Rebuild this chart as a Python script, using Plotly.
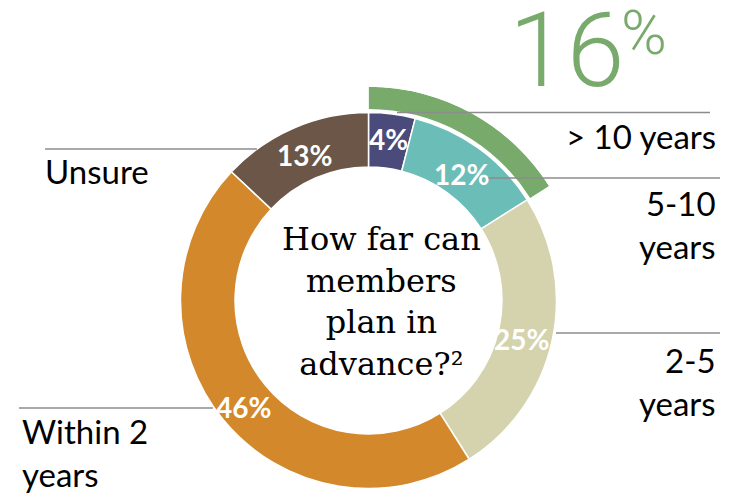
import math
import plotly.graph_objects as go

W, H = 730, 493

# Survey answers, clockwise from 12 o'clock
categories = ["> 10 years", "5-10 years", "2-5 years", "Within 2 years", "Unsure"]
shares = [4, 12, 25, 46, 13]
slice_colors = ["#4b4b7b", "#6bbdb8", "#d4d3ae", "#d3892b", "#6b5647"]
label_text = ["> 10 years", "5-10<br>years", "2-5<br>years", "Within 2<br>years", "Unsure"]
highlight_count = 2  # first two answers form the highlighted long-horizon group
question = "How far can<br>members<br>plan in<br>advance?²"

GREEN = "#78aa6b"
GREY = "#8c8c8c"
LABEL_FONT = "Lato"


def px(x):
    return x / W


def py(y):
    return 1 - y / H


# donut geometry (pixels)
cx, cy = 368.5, 300.5
r_out = 188.0
hole = 0.71
arc_in, arc_out = 191.5, 213.8

highlight = sum(shares[:highlight_count])
span = 360.0 * highlight / sum(shares)

fig = go.Figure()

fig.add_trace(go.Pie(
    labels=categories,
    values=shares,
    sort=False,
    direction="clockwise",
    rotation=0,
    hole=hole,
    marker=dict(colors=slice_colors, line=dict(color="white", width=1.5)),
    textinfo="none",
    hoverinfo="skip",
    showlegend=False,
    domain=dict(x=[px(cx - r_out), px(cx + r_out)], y=[py(cy + r_out), py(cy - r_out)]),
))

# outer highlight arc drawn on a polar sector subplot
fig.add_trace(go.Barpolar(
    r=[arc_out - arc_in],
    base=[arc_in],
    theta=[span / 2],
    width=[span],
    marker=dict(color=GREEN, line=dict(width=0)),
    hoverinfo="skip",
    showlegend=False,
))

sector_lo = 90 - span - 1
fig.update_layout(
    polar=dict(
        domain=dict(
            x=[px(cx), px(cx + arc_out * math.cos(math.radians(sector_lo)))],
            y=[py(cy), py(cy - arc_out)],
        ),
        sector=[sector_lo, 90],
        bgcolor="rgba(0,0,0,0)",
        radialaxis=dict(visible=False, range=[0, arc_out]),
        angularaxis=dict(visible=False, rotation=90, direction="clockwise"),
    )
)

# leader lines (pixel coordinates)
leaders = [
    (397, 710, 112.5),
    (487, 720, 178),
    (556, 720, 333),
    (19, 213, 408),
    (45, 257, 149),
]
for x0, x1, y in leaders:
    fig.add_shape(type="line", xref="paper", yref="paper",
                  x0=px(x0), x1=px(x1), y0=py(y), y1=py(y),
                  line=dict(color=GREY, width=1.5))

# percentage labels on the slices (pixel centres)
pct_pos = [(388, 139), (461, 174), (521, 339), (243, 407), (304, 155)]
for v, (x, y) in zip(shares, pct_pos):
    fig.add_annotation(text=f"{v}%", x=px(x), y=py(y), xref="paper", yref="paper",
                       xanchor="center", yanchor="middle", showarrow=False,
                       font=dict(family=LABEL_FONT, size=28, color="white", weight="bold"))

# category labels: (x, y centre, anchor)
label_pos = [
    (718, 136, "right"),
    (718, 224, "right"),
    (718, 381, "right"),
    (20, 452, "left"),
    (43, 171, "left"),
]
for txt, (x, y, anchor) in zip(label_text, label_pos):
    fig.add_annotation(text=txt, x=px(x), y=py(y), xref="paper", yref="paper",
                       xanchor=anchor, yanchor="middle", align=anchor, showarrow=False,
                       font=dict(family=LABEL_FONT, size=33, color="black"))

# centre question
fig.add_annotation(text=question, x=px(381), y=py(301), xref="paper", yref="paper",
                   xanchor="center", yanchor="middle", showarrow=False,
                   font=dict(family="DejaVu Serif", size=32, color="black"))

# highlighted total
fig.add_annotation(text=str(highlight), x=px(566), y=py(51), xref="paper", yref="paper",
                   xanchor="center", yanchor="middle", showarrow=False,
                   font=dict(family="Roboto", size=104, color=GREEN, weight=300))
fig.add_annotation(text="%", x=px(644), y=py(32), xref="paper", yref="paper",
                   xanchor="center", yanchor="middle", showarrow=False,
                   font=dict(family="Roboto", size=62, color=GREEN, weight=300))

fig.update_layout(
    width=W, height=H,
    margin=dict(l=0, r=0, t=0, b=0),
    paper_bgcolor="white",
    plot_bgcolor="white",
)

fig.write_html("out.html")
